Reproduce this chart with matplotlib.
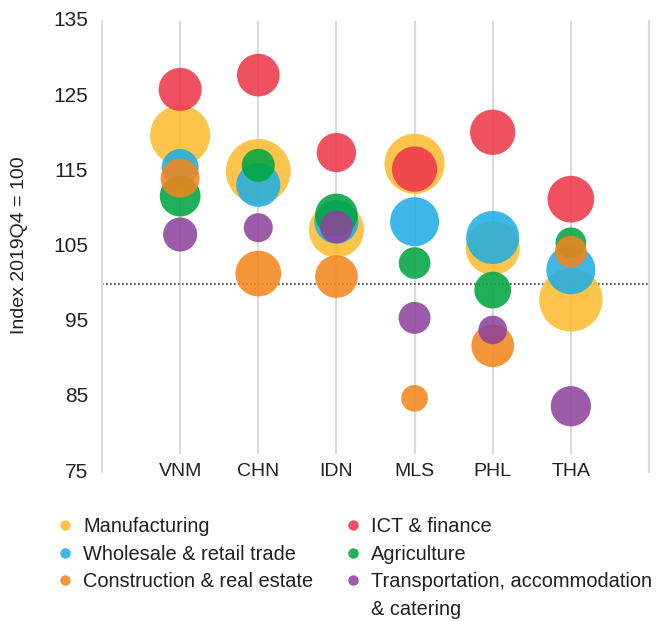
import matplotlib
matplotlib.use("Agg")
import matplotlib.pyplot as plt
from matplotlib.lines import Line2D
from matplotlib import font_manager

avail = {f.name for f in font_manager.fontManager.ttflist}
fam = [f for f in ["Liberation Sans Narrow", "Liberation Sans", "DejaVu Sans"] if f in avail]
plt.rcParams["font.family"] = fam
TXT = "#231F20"

countries = ["VNM", "CHN", "IDN", "MLS", "PHL", "THA"]
yticks = [75, 85, 95, 105, 115, 125, 135]

# series order = drawing order
sectors = ["Manufacturing", "ICT & finance", "Wholesale & retail trade", "Agriculture",
           "Construction & real estate", "Transportation, accommodation\n& catering"]

# index values (2019Q4 = 100)
manufacturing = [119.8, 115.0, 107.2, 116.0, 104.8, 97.9]
ict_finance = [125.9, 127.8, 117.5, 115.3, 120.2, 111.3]
wholesale = [115.5, 113.2, 108.3, 108.3, 106.2, 101.9]
agriculture = [111.7, 115.8, 109.2, 102.8, 99.2, 105.5]
construction = [114.1, 101.4, 101.0, 84.8, 91.8, 104.3]
transport = [106.6, 107.5, 107.6, 95.5, 93.9, 83.75]

# bubble sizes (relative area)
manufacturing_sz = [36.0, 41.9, 30.3, 36.0, 29.2, 40.1]
ict_finance_sz = [18.5, 18.2, 15.4, 20.5, 20.5, 21.8]
wholesale_sz = [13.7, 19.4, 19.4, 24.0, 28.1, 24.0]
agriculture_sz = [16.6, 10.9, 18.2, 10.0, 13.5, 9.4]
construction_sz = [15.2, 20.9, 18.2, 7.1, 18.2, 10.2]
transport_sz = [11.6, 8.4, 10.7, 10.2, 8.2, 16.2]

values = [manufacturing, ict_finance, wholesale, agriculture, construction, transport]
sizes = [manufacturing_sz, ict_finance_sz, wholesale_sz, agriculture_sz, construction_sz, transport_sz]
colors = ["#FCBB30", "#ED3748", "#1FADE4", "#00A540", "#F3851B", "#8D439B"]

fig = plt.figure(figsize=(6.61, 6.21), dpi=100)
ax = fig.add_axes([102 / 661, 149 / 621, 547 / 661, 451 / 621])

x = list(range(1, len(countries) + 1))
ax.set_xlim(0, len(countries) + 1)
ax.set_ylim(yticks[0], yticks[-1])

grid_c = "#DADADA"
ax.vlines(x, 77.4, yticks[-1], color=grid_c, lw=1.5, zorder=0)
ax.axhline(100, color="#404040", lw=1.2, ls=(0, (1, 1.4)), zorder=0.5)

scale = 51.84
for vals, sz, col in zip(values, sizes, colors):
    ax.scatter(x, vals, s=[v * scale for v in sz], color=col, alpha=0.87,
               edgecolors="none", zorder=2)

for side in ["top", "bottom"]:
    ax.spines[side].set_visible(False)
for side in ["left", "right"]:
    ax.spines[side].set_color(grid_c)
    ax.spines[side].set_linewidth(1.5)

ax.set_yticks(yticks)
ax.set_xticks(x)
ax.set_xticklabels(countries)
ax.tick_params(axis="both", length=0, colors=TXT)
ax.tick_params(axis="y", pad=10, labelsize=15)
ax.tick_params(axis="x", pad=0, labelsize=14)
for lab in ax.get_xticklabels():
    lab.set_va("center")
for lab in ax.get_yticklabels():
    lab.set_va("center")

fig.text(20 / 661, 1 - 245 / 621, "Index 2019Q4 = 100", rotation=90, ha="center",
         va="center", fontsize=14, color=TXT)

# legend: column-major, with the second line of the last label as its own row
leg_order = [0, 2, 4, None, 1, 3, 5, "cont"]
handles, labels = [], []
for i in leg_order:
    if isinstance(i, int):
        handles.append(Line2D([], [], ls="none", marker="o", markersize=7.5, color=colors[i],
                              alpha=0.87, markeredgewidth=0))
        labels.append(sectors[i].split("\n")[0])
    else:
        handles.append(Line2D([], [], ls="none", marker=None))
        labels.append(sectors[5].split("\n")[1] if i == "cont" else "")
fig.legend(handles, labels, ncol=2, loc="upper left", bbox_to_anchor=(57 / 661, 1 - 517 / 621),
           frameon=False, fontsize=14.4, handlelength=0.8, handletextpad=0.5,
           columnspacing=1.6, labelspacing=0.43, labelcolor=TXT, borderpad=0,
           borderaxespad=0)

fig.savefig("out.png", dpi=100)
